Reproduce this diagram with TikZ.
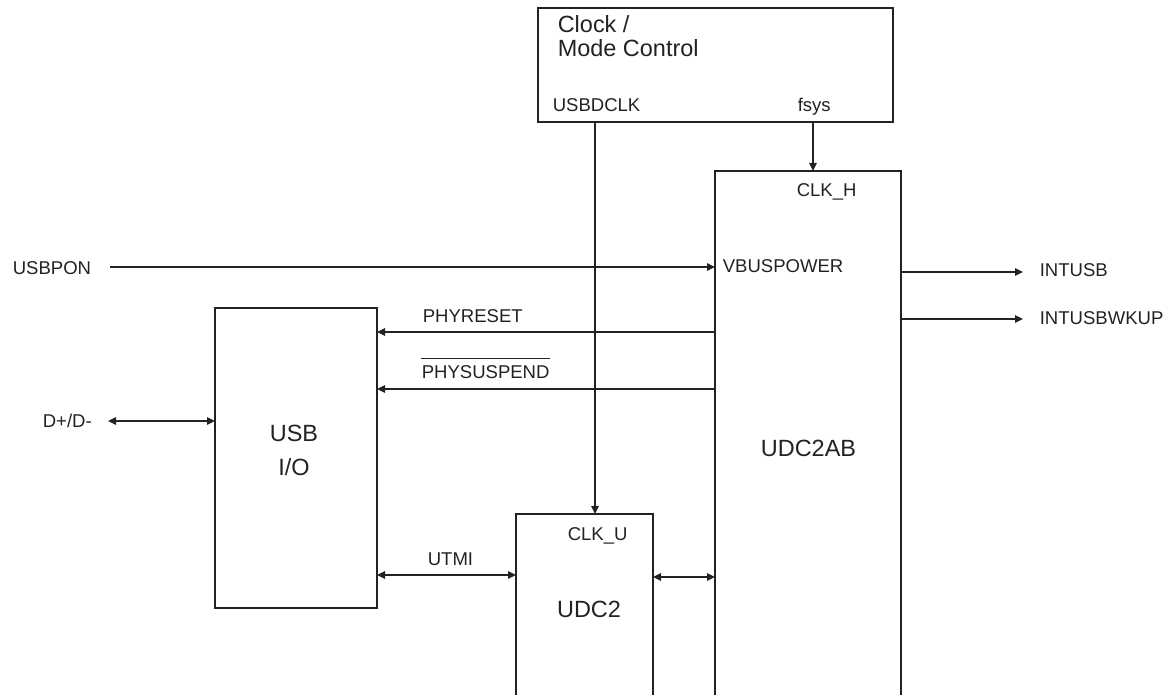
\documentclass[tikz,border=0pt]{standalone}
\usepackage{fontspec}
\setmainfont{Liberation Sans}
\usetikzlibrary{arrows.meta,fit}
\definecolor{ink}{HTML}{222222}
\begin{document}
\begin{tikzpicture}[x=0.75pt,y=-0.75pt,
  line width=1.2pt, draw=ink, color=ink,
  blk/.style={draw=ink, line width=1.4pt, inner sep=0pt, outer sep=0pt},
  arr/.style={draw=ink, line width=1.2pt, -{Triangle[length=6pt,width=5.5pt]}},
  biarr/.style={draw=ink, line width=1.2pt, {Triangle[length=6pt,width=5.5pt]}-{Triangle[length=6pt,width=5.5pt]}},
  big/.style={font=\fontsize{17.6}{20}\selectfont, inner sep=0pt, text=ink},
  lbl/.style={font=\fontsize{13.9}{16}\selectfont, inner sep=0pt, text=ink}]
\useasboundingbox (0,0) rectangle (1172,695);
\clip (0,0) rectangle (1172,695);

% blocks
\coordinate (clkA) at (538,8);   \coordinate (clkB) at (893,122);
\node[blk, fit=(clkA)(clkB)] (clk) {};
\coordinate (abA) at (715,171);  \coordinate (abB) at (901,705);
\node[blk, fit=(abA)(abB)] (udcab) {};
\coordinate (u2A) at (516,514);  \coordinate (u2B) at (653,705);
\node[blk, fit=(u2A)(u2B)] (udc) {};
\coordinate (ioA) at (215,308);  \coordinate (ioB) at (377,608);
\node[blk, fit=(ioA)(ioB)] (usbio) {};

% block texts
\node[big, anchor=base west] (clkt1) at (557,33) {Clock /};
\node[big, anchor=base west] (clkt2) at (557,57) {Mode Control};
\node[lbl, anchor=base west] (usbdclk) at (552,112) {USBDCLK};
\node[lbl, anchor=base west] (fsys) at (797,112) {fsys};
\node[lbl, anchor=base west] (clkh) at (796,197) {CLK\_H};
\node[lbl, anchor=base west] (vbus) at (722,273) {VBUSPOWER};
\node[big, anchor=base] (udcabt) at (808.5,457) {UDC2AB};
\node[lbl, anchor=base west] (clku) at (567,540) {CLK\_U};
\node[big, anchor=base] (udct) at (589,617) {UDC2};
\node[big, anchor=base] (usbt) at (294,442) {USB};
\node[big, anchor=base] (iot) at (294,475) {I/O};

% external labels
\node[lbl, anchor=base west] (usbpon) at (12,275) {USBPON};
\node[lbl, anchor=base west] (dpdm) at (42,427) {D+/D-};
\node[lbl, anchor=base west] (intusb) at (1039,277) {INTUSB};
\node[lbl, anchor=base west] (intwk) at (1039,325) {INTUSBWKUP};
\node[lbl, anchor=base west] (phyreset) at (422,323) {PHYRESET};
\node[lbl, anchor=base west] (physusp) at (421,379) {PHYSUSPEND};
\draw[line width=0.8pt] ([yshift=5pt]physusp.north west) -- ([yshift=5pt]physusp.north east);
\node[lbl, anchor=base west] (utmi) at (427,565) {UTMI};

% connector end points
\coordinate (pA) at (110,267);
\coordinate (dA) at (108,421);
\coordinate (iA) at (1023,272);
\coordinate (wA) at (1023,319);

% connectors
\draw[arr] (clk.south -| 813,0) -- (udcab.north -| 813,0);
\draw[arr] (clk.south -| 595,0) -- (udc.north -| 595,0);
\draw[arr] (pA) -- (pA -| udcab.west);
\draw[arr] (udcab.east |- iA) -- (iA);
\draw[arr] (udcab.east |- wA) -- (wA);
\draw[arr] (udcab.west |- 0,332) -- (usbio.east |- 0,332);
\draw[arr] (udcab.west |- 0,389) -- (usbio.east |- 0,389);
\draw[biarr] (dA) -- (dA -| usbio.west);
\draw[biarr] (usbio.east |- 0,575) -- (udc.west |- 0,575);
\draw[biarr] (udc.east |- 0,577) -- (udcab.west |- 0,577);
\end{tikzpicture}
\end{document}
